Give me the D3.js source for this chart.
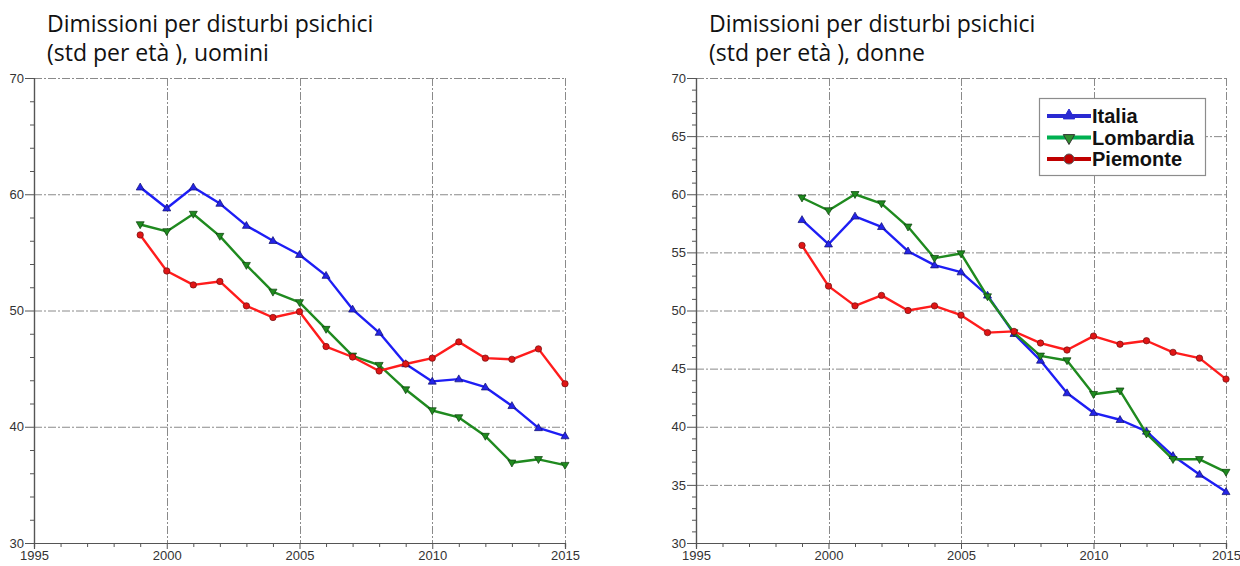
<!DOCTYPE html>
<html>
<head>
<meta charset="utf-8">
<script src="https://cdn.jsdelivr.net/npm/d3@7"></script>
<style>
  html, body { margin: 0; padding: 0; background: #fff; }
  svg { display: block; }
</style>
</head>
<body>
<svg id="chart" width="1240" height="566"></svg>
<script>
// Years of observation
const years = [1999, 2000, 2001, 2002, 2003, 2004, 2005, 2006, 2007, 2008,
               2009, 2010, 2011, 2012, 2013, 2014, 2015];

// Men, age-standardised discharge rates
const italiaUomini    = [60.6, 58.8, 60.6, 59.2, 57.3, 56.0, 54.8, 53.0, 50.1, 48.1,
                         45.4, 43.9, 44.1, 43.4, 41.8, 39.9, 39.2];
const lombardiaUomini = [57.4, 56.8, 58.3, 56.4, 53.9, 51.6, 50.7, 48.4, 46.1, 45.3,
                         43.2, 41.4, 40.8, 39.2, 36.9, 37.2, 36.7];
const piemonteUomini  = [56.5, 53.4, 52.2, 52.5, 50.4, 49.4, 49.9, 46.9, 46.0, 44.8,
                         45.4, 45.9, 47.3, 45.9, 45.8, 46.7, 43.7];

// Women, age-standardised discharge rates
const italiaDonne     = [57.8, 55.7, 58.1, 57.2, 55.1, 53.9, 53.3, 51.3, 48.0, 45.7,
                         42.9, 41.2, 40.6, 39.6, 37.5, 35.9, 34.4];
const lombardiaDonne  = [59.7, 58.6, 60.0, 59.2, 57.2, 54.5, 54.9, 51.2, 48.1, 46.1,
                         45.7, 42.8, 43.1, 39.4, 37.2, 37.2, 36.1];
const piemonteDonne   = [55.6, 52.1, 50.4, 51.3, 50.0, 50.4, 49.6, 48.1, 48.2, 47.2,
                         46.6, 47.8, 47.1, 47.4, 46.4, 45.9, 44.1];

// Axis ticks
const xMajorTicks = [1995, 2000, 2005, 2010, 2015];
const yMajorLeft  = [30, 40, 50, 60, 70];
const yMajorRight = [30, 35, 40, 45, 50, 55, 60, 65, 70];

const seriesNames = ["Italia", "Lombardia", "Piemonte"];

const styles = {
  Italia:    { line: "#1e1ef5", marker: "#2424e6", edge: "#101070", shape: "up",
               legendLine: "#2a2ad2", legendMarker: "#2a2ad2" },
  Lombardia: { line: "#1f8a1f", marker: "#1f8a1f", edge: "#0c3d0c", shape: "down",
               legendLine: "#00b050", legendMarker: "#2f8f2f" },
  Piemonte:  { line: "#ff1c1c", marker: "#e01515", edge: "#701010", shape: "circle",
               legendLine: "#c00000", legendMarker: "#c00000" }
};

const svg = d3.select("#chart");

function markerPath(shape, size) {
  const s = size;
  if (shape === "up")   return `M0,${-s} L${s * 0.95},${s * 0.65} L${-s * 0.95},${s * 0.65}Z`;
  if (shape === "down") return `M0,${s} L${s * 0.95},${-s * 0.65} L${-s * 0.95},${-s * 0.65}Z`;
  return null;
}

function drawPanel(opts) {
  const { left, right, top, bottom, yMajor, yMinorStep, title, data } = opts;
  const g = svg.append("g");

  const x = d3.scaleLinear().domain([1995, 2015]).range([left, right]);
  const y = d3.scaleLinear().domain([30, 70]).range([bottom, top]);

  // Title, two lines
  const t = g.append("text")
    .attr("x", left + 13)
    .attr("y", 32)
    .attr("font-family", "'Open Sans', sans-serif")
    .attr("font-size", 23)
    .attr("fill", "#111");
  t.append("tspan").attr("x", left + 13).attr("dy", 0).text(title[0]);
  t.append("tspan").attr("x", left + 13).attr("dy", 29).text(title[1]);

  // Dashed grid lines at the major ticks
  const grid = g.append("g")
    .attr("stroke", "#8a8a8a")
    .attr("stroke-width", 1)
    .attr("stroke-dasharray", "8,2,2,2")
    .attr("fill", "none");
  grid.selectAll("line.h")
    .data(yMajor.filter(v => v > 30))
    .join("line")
    .attr("x1", left).attr("x2", right)
    .attr("y1", d => y(d) + 0.5).attr("y2", d => y(d) + 0.5);
  grid.selectAll("line.v")
    .data(xMajorTicks.filter(v => v > 1995))
    .join("line")
    .attr("y1", top).attr("y2", bottom)
    .attr("x1", d => Math.round(x(d)) + 0.5).attr("x2", d => Math.round(x(d)) + 0.5);

  // Minor ticks
  const yMinor = d3.range(30, 70 + 0.001, yMinorStep).filter(v => !yMajor.includes(v));
  const xMinor = d3.range(1995, 2016).filter(v => !xMajorTicks.includes(v));

  const yAxisMinor = d3.axisLeft(y).tickValues(yMinor).tickSize(4).tickFormat("");
  const xAxisMinor = d3.axisBottom(x).tickValues(xMinor).tickSize(4).tickFormat("");

  const yAxis = d3.axisLeft(y).tickValues(yMajor).tickSize(9).tickPadding(1).tickFormat(d3.format("d"));
  const xAxis = d3.axisBottom(x).tickValues(xMajorTicks).tickSize(6).tickPadding(2).tickFormat(d3.format("d"));

  const axes = [
    g.append("g").attr("transform", `translate(${left},0)`).call(yAxisMinor),
    g.append("g").attr("transform", `translate(0,${bottom})`).call(xAxisMinor),
    g.append("g").attr("transform", `translate(${left},0)`).call(yAxis),
    g.append("g").attr("transform", `translate(0,${bottom})`).call(xAxis)
  ];
  axes.forEach(a => {
    a.selectAll("path.domain").attr("stroke", "#555").attr("stroke-width", 1.2);
    a.selectAll(".tick line").attr("stroke", "#555");
    a.selectAll("text")
      .attr("font-family", "'Liberation Sans', Arial, sans-serif")
      .attr("font-size", 13)
      .attr("fill", "#333");
  });

  // Data lines with markers
  const line = d3.line().x((d, i) => x(years[i])).y(d => y(d));
  seriesNames.forEach(name => {
    const st = styles[name];
    const vals = data[name];
    g.append("path")
      .datum(vals)
      .attr("fill", "none")
      .attr("stroke", st.line)
      .attr("stroke-width", 2.4)
      .attr("stroke-linejoin", "round")
      .attr("d", line);
    const m = g.append("g");
    vals.forEach((v, i) => {
      const cx = x(years[i]), cy = y(v);
      if (st.shape === "circle") {
        m.append("circle").attr("cx", cx).attr("cy", cy).attr("r", 3.2)
          .attr("fill", st.marker).attr("stroke", st.edge).attr("stroke-width", 0.7);
      } else {
        m.append("path").attr("d", markerPath(st.shape, 4.2))
          .attr("transform", `translate(${cx},${cy})`)
          .attr("fill", st.marker).attr("stroke", st.edge).attr("stroke-width", 0.7);
      }
    });
  });
  return { x, y, g };
}

drawPanel({
  left: 34, right: 565, top: 78, bottom: 543,
  yMajor: yMajorLeft, yMinorStep: 2,
  title: ["Dimissioni per disturbi psichici", "(std per età ), uomini"],
  data: { Italia: italiaUomini, Lombardia: lombardiaUomini, Piemonte: piemonteUomini }
});

drawPanel({
  left: 696, right: 1226, top: 78, bottom: 543,
  yMajor: yMajorRight, yMinorStep: 1,
  title: ["Dimissioni per disturbi psichici", "(std per età ), donne"],
  data: { Italia: italiaDonne, Lombardia: lombardiaDonne, Piemonte: piemonteDonne }
});

// Legend on the right-hand panel
const legend = svg.append("g").attr("transform", "translate(1039,98)");
legend.append("rect")
  .attr("x", 0.5).attr("y", 0.5).attr("width", 166).attr("height", 77)
  .attr("fill", "#fff").attr("stroke", "#8c8c8c").attr("stroke-width", 1.2);
seriesNames.forEach((name, i) => {
  const st = styles[name];
  const ly = 18 + i * 21.5;
  const row = legend.append("g").attr("transform", `translate(0,${ly})`);
  row.append("line")
    .attr("x1", 8).attr("x2", 52).attr("y1", 0).attr("y2", 0)
    .attr("stroke", st.legendLine).attr("stroke-width", 4);
  if (st.shape === "circle") {
    row.append("circle").attr("cx", 30).attr("cy", 0).attr("r", 5)
      .attr("fill", st.legendMarker).attr("stroke", "#555").attr("stroke-width", 1);
  } else {
    row.append("path").attr("d", markerPath(st.shape, 6))
      .attr("transform", `translate(30,${st.shape === "up" ? -1 : 1})`)
      .attr("fill", st.legendMarker).attr("stroke", st.shape === "down" ? "#333" : st.legendMarker)
      .attr("stroke-width", 1);
  }
  row.append("text")
    .attr("x", 53).attr("y", 7)
    .attr("font-family", "'Liberation Sans', Arial, sans-serif")
    .attr("font-weight", "bold")
    .attr("font-size", 20)
    .attr("fill", "#111")
    .text(name);
});
</script>
</body>
</html>
